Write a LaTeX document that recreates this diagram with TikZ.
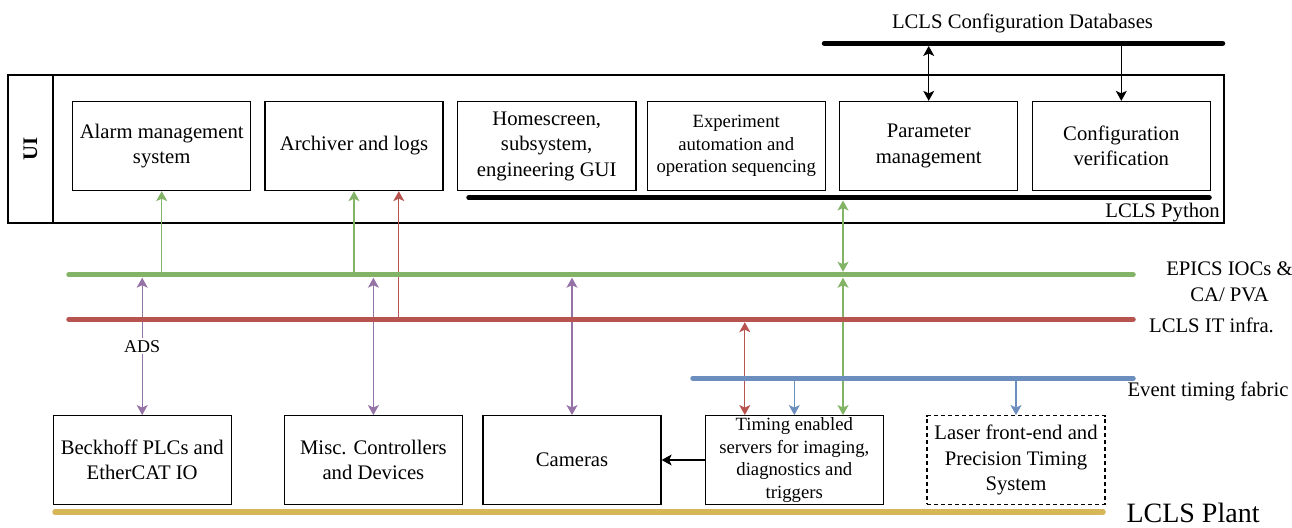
\documentclass[tikz,border=0pt]{standalone}
\usepackage{fontspec}
\setmainfont{Liberation Serif}
\usetikzlibrary{arrows.meta}
\definecolor{cgreen}{HTML}{82B366}
\definecolor{cred}{HTML}{B85450}
\definecolor{cblue}{HTML}{6C8EBF}
\definecolor{cpurple}{HTML}{9673A6}
\definecolor{cyellow}{HTML}{D6B656}
\newcommand\fmain{\fontsize{20.7}{25.5}\selectfont}
\newcommand\fsmaller{\fontsize{18.7}{22.7}\selectfont}
\newcommand\fads{\fontsize{18}{22}\selectfont}
\newcommand\fplant{\fontsize{28}{32}\selectfont}
\tikzset{
  box/.style={draw, line width=1.3pt, minimum width=178pt, minimum height=89pt, inner sep=0pt, align=center, font=\fmain},
  bus/.style={line width=5.5pt, line cap=round},
  conn/.style={line width=1.2pt},
  lbl/.style={inner sep=0pt, font=\fmain, align=center},
}
\begin{document}
\begin{tikzpicture}[x=1pt,y=-1pt,>={Stealth[length=10pt,width=11pt,inset=2.5pt]}]
\useasboundingbox (0,0) rectangle (1292,527);
% UI frame
\node[draw, line width=1.3pt, minimum width=1216pt, minimum height=148pt, inner sep=0pt] (uiframe) at (616,149) {};
\node[draw, line width=1.3pt, minimum width=45pt, minimum height=148pt, inner sep=0pt] (uitab) at (30.5,149) {};
\node[rotate=90, inner sep=0pt, font=\fmain\bfseries] (uilabel) at (uitab.center) {UI};
% top boxes
\node[box] (alarm) at (161.7,146) {Alarm management\\system};
\node[box] (archiver) at (354,146) {Archiver and logs};
\node[box, minimum width=178.7pt] (home) at (546.7,146) {Homescreen,\\subsystem,\\engineering GUI};
\node[box, font=\fsmaller] (exper) at (736.2,146) {Experiment\\automation and\\operation sequencing};
\node[box] (param) at (928.7,146) {Parameter\\management};
\node[box] (config) at (1121.3,146) {Configuration\\verification};
% bottom boxes
\node[box, minimum height=88.6pt] (beckhoff) at (142.2,460) {Beckhoff PLCs and\\EtherCAT IO};
\node[box, minimum height=88.6pt] (misc) at (373.4,460) {Misc. Controllers\\and Devices};
\node[box, minimum height=88.6pt] (cameras) at (572,460) {Cameras};
\node[box, minimum height=88.6pt, font=\fsmaller] (timing) at (794.3,460) {Timing enabled\\servers for imaging,\\diagnostics and\\triggers};
\node[box, minimum height=88.6pt, dash pattern=on 4pt off 3pt] (laser) at (1016,460) {Laser front-end and\\Precision Timing\\System};
% bus coordinates
\coordinate (dbL) at (824.5,43.3);  \coordinate (dbR) at (1222.5,43.3);
\coordinate (pyL) at (469,197.7);   \coordinate (pyR) at (1209,197.7);
\coordinate (gL) at (69,274.7);     \coordinate (gR) at (1133,274.7);
\coordinate (rL) at (69,319.3);     \coordinate (rR) at (1133,319.3);
\coordinate (bL) at (693,378.3);    \coordinate (bR) at (1133,378.3);
\coordinate (yL) at (55,512);       \coordinate (yR) at (1103,512);
% connectors
\coordinate (g1) at (161.7,274.7);
\coordinate (g2) at (354,274.7);
\coordinate (r1) at (398.8,319.3);
\coordinate (p1) at (142.2,277.7);
\coordinate (p2) at (373.4,277.7);
\coordinate (p3) at (572,277.7);
\coordinate (r2) at (744.8,322.2);
\coordinate (b1) at (794.3,378.3);
\coordinate (g3) at (843,277.7);
\coordinate (g4top) at (843,200.5);
\coordinate (g4bot) at (843,271.8);
\coordinate (b2) at (1016,378.3);
\coordinate (d1) at (928.7,46);
\coordinate (d2) at (1121.3,43.3);
\draw[conn, cgreen, ->] (g1) -- (alarm.south);
\draw[conn, cgreen, ->] (g2) -- (archiver.south);
\draw[conn, cred, ->] (r1) -- (r1 |- archiver.south);
\draw[conn, cpurple, <->] (p1) -- (beckhoff.north) node[midway, fill=white, text=black, inner xsep=1pt, inner ysep=2pt, font=\fads] (ads) {ADS};
\draw[conn, cpurple, <->] (p2) -- (misc.north);
\draw[conn, cpurple, <->] (p3) -- (cameras.north);
\draw[conn, cred, <->] (r2) -- (r2 |- timing.north);
\draw[conn, cblue, ->] (b1) -- (timing.north);
\draw[conn, cgreen, <->] (g3) -- (g3 |- timing.north);
\draw[conn, cgreen, <->] (g4top) -- (g4bot);
\draw[conn, cblue, ->] (b2) -- (laser.north);
\draw[conn, <->] (d1) -- (param.north);
\draw[conn, ->] (d2) -- (config.north);
\draw[conn, ->] (timing.west) -- (cameras.east);
% buses
\draw[bus] (dbL) -- (dbR);
\draw[bus] (pyL) -- (pyR);
\draw[bus, cgreen] (gL) -- (gR);
\draw[bus, cred] (rL) -- (rR);
\draw[bus, cblue] (bL) -- (bR);
\draw[bus, cyellow] (yL) -- (yR);
% labels
\node[lbl, anchor=base] (dblabel) at (1022.5,28.3) {LCLS Configuration Databases};
\node[lbl, anchor=base east] (pylabel) at (1220,217.3) {LCLS Python};
\node[lbl] (epics) at (1229.5,282) {EPICS IOCs \&\\CA/ PVA};
\node[lbl, anchor=base] (itlabel) at (1211.5,332.5) {LCLS IT infra.};
\node[lbl, anchor=base] (evlabel) at (1208,396.7) {Event timing fabric};
\node[lbl, anchor=base, font=\fplant] (plant) at (1193,522) {LCLS Plant};
\end{tikzpicture}
\end{document}
